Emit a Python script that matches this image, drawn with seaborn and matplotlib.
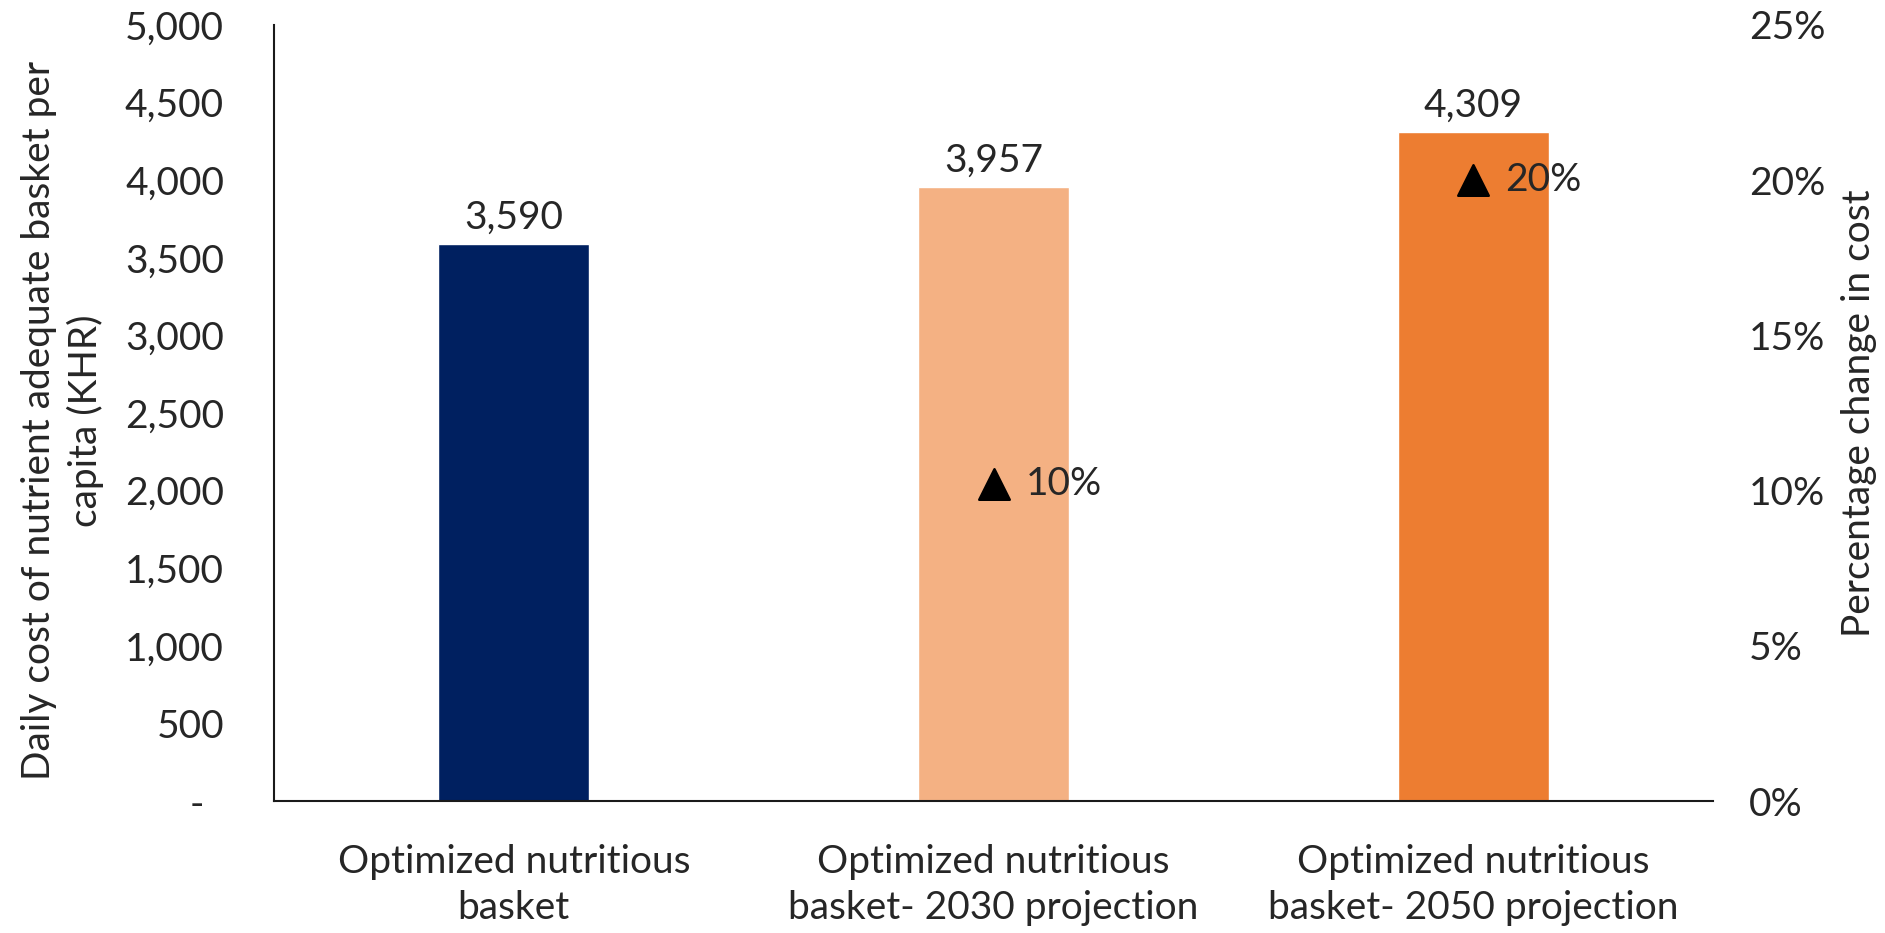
import matplotlib
matplotlib.use("Agg")
import matplotlib.pyplot as plt
import seaborn as sns
import pandas as pd

# Data
categories = [
    "Optimized nutritious\nbasket",
    "Optimized nutritious\nbasket- 2030 projection",
    "Optimized nutritious\nbasket- 2050 projection",
]
daily_cost = [3590, 3957, 4309]
bar_colors = ["#002060", "#F4B183", "#ED7D31"]
change_categories = categories[1:]
pct_change = [0.102, 0.200]
left_ticks = [0, 500, 1000, 1500, 2000, 2500, 3000, 3500, 4000, 4500, 5000]
right_ticks = [0, 0.05, 0.10, 0.15, 0.20, 0.25]

sns.set_theme(style="white")
plt.rcParams["font.family"] = ["Lato", "DejaVu Sans"]
FS = 28

fig = plt.figure(figsize=(18.85, 9.33), dpi=100)
ax = fig.add_axes([274 / 1885, 1 - 801 / 933, (1713 - 274) / 1885, (801 - 25) / 933])

df = pd.DataFrame({"category": categories, "cost": daily_cost})
sns.barplot(data=df, x="category", y="cost", hue="category", palette=bar_colors,
            width=0.315, legend=False, ax=ax, saturation=1)

ax.set_xlim(-0.5, len(categories) - 0.5)
ax.set_ylim(0, 5000)
ax.set_yticks(left_ticks)
ax.set_yticklabels(["-  "] + [f"{v:,}" for v in left_ticks[1:]])
ax.tick_params(axis="y", labelsize=FS, pad=36, length=0)
ax.tick_params(axis="x", labelsize=FS, pad=31, length=0)
for lbl in ax.get_xticklabels():
    lbl.set_linespacing(1.35)
ax.set_xlabel("")
ax.set_ylabel("Daily cost of nutrient adequate basket per\ncapita (KHR)", fontsize=FS,
              linespacing=1.32)
ax.yaxis.set_label_coords(-0.118, 0.49)

for side in ["top", "right"]:
    ax.spines[side].set_visible(False)
for side in ["left", "bottom"]:
    ax.spines[side].set_color("#1a1a1a")
    ax.spines[side].set_linewidth(1.5)

# Value labels above bars
for cat, v in zip(categories, daily_cost):
    ax.annotate(f"{v:,}", xy=(cat, v), xytext=(0, 6), textcoords="offset points",
                ha="center", va="bottom", fontsize=FS)

# Secondary axis: percentage change in cost
ax2 = ax.twinx()
sns.scatterplot(x=change_categories, y=pct_change, marker="^", s=22 ** 2, color="black",
                edgecolor="black", ax=ax2, legend=False, zorder=5)
ax2.set_ylim(0, 0.25)
ax2.set_yticks(right_ticks)
ax2.set_yticklabels([f"{t:.0%}" for t in right_ticks])
ax2.tick_params(axis="y", labelsize=FS, pad=26, length=0)
ax2.set_ylabel("Percentage change in cost", fontsize=FS)
ax2.yaxis.set_label_coords(1.089, 0.5)
for side in ["top", "right", "left", "bottom"]:
    ax2.spines[side].set_visible(False)

for cat, p in zip(change_categories, pct_change):
    ax2.annotate(f"{p:.0%}", xy=(cat, p), xytext=(23, 0), textcoords="offset points",
                 ha="left", va="center", fontsize=FS)

fig.savefig("out.png", dpi=100)
